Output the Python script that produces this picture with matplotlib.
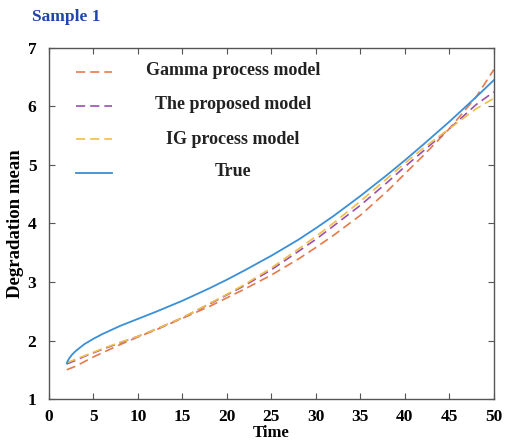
import matplotlib
matplotlib.use("Agg")
import matplotlib.pyplot as plt

# ---- data ----
t_true = [2, 2.1, 2.3, 2.6, 3, 3.5, 4, 5, 6, 8, 10, 12, 15, 18, 20, 22, 25, 28, 30, 32, 35, 38, 40, 42, 45, 48, 50]
true_vals = [1.61, 1.65, 1.70, 1.76, 1.82, 1.88, 1.94, 2.03, 2.11, 2.25, 2.37, 2.49, 2.68, 2.89, 3.04, 3.20,
             3.45, 3.72, 3.92, 4.13, 4.47, 4.83, 5.08, 5.34, 5.74, 6.16, 6.45]

t_model = [2, 3, 4, 5, 6, 8, 10, 12, 15, 18, 20, 22, 25, 28, 30, 32, 35, 38, 40, 42, 45, 48, 50]
gamma_vals = [1.50, 1.56, 1.64, 1.72, 1.79, 1.93, 2.06, 2.18, 2.38, 2.58, 2.73, 2.88, 3.12, 3.39, 3.59,
              3.80, 4.14, 4.55, 4.85, 5.15, 5.62, 6.16, 6.63]
proposed_vals = [1.60, 1.66, 1.73, 1.79, 1.85, 1.96, 2.07, 2.19, 2.39, 2.62, 2.78, 2.94, 3.21, 3.52, 3.73,
                 3.96, 4.31, 4.70, 4.97, 5.23, 5.62, 6.03, 6.25]
ig_vals = [1.62, 1.68, 1.74, 1.80, 1.86, 1.97, 2.07, 2.19, 2.39, 2.63, 2.79, 2.96, 3.24, 3.56, 3.78,
           4.01, 4.38, 4.77, 5.03, 5.28, 5.62, 5.96, 6.14]

labels = ["Gamma process model", "The proposed model", "IG process model", "True"]
colors = ["#E57A4A", "#9A50AE", "#F2BE45", "#3A8FD6"]
x_ticks = list(range(0, 51, 5))
y_ticks = list(range(1, 8))

plt.rcParams['font.family'] = ['Liberation Serif', 'DejaVu Serif']

fig = plt.figure(figsize=(5.07, 4.41), dpi=100)
ax = fig.add_axes([0.0966, 0.0952, 0.8774, 0.7960])

dash = (0, (5.5, 3))
handles = []
for vals, c in zip([gamma_vals, proposed_vals, ig_vals], colors[:3]):
    ln, = ax.plot(t_model, vals, color=c, lw=1.2, ls=dash)
    handles.append(ln)
ln, = ax.plot(t_true, true_vals, color=colors[3], lw=1.3)
handles.append(ln)

ax.set_xlim(0, 50)
ax.set_ylim(1, 7)
ax.set_xticks(x_ticks)
ax.set_yticks(y_ticks)
ax.tick_params(direction='in', length=4, width=0.8, color='#555555',
               top=True, right=True, labelsize=12.5)
ax.tick_params(axis='x', pad=7)
ax.tick_params(axis='y', pad=9)
for lab in ax.get_xticklabels() + ax.get_yticklabels():
    lab.set_fontweight('bold')
for s in ax.spines.values():
    s.set_color('#555555')
    s.set_linewidth(1.0)

ax.set_xlabel("Time", fontsize=12, fontweight='bold', labelpad=0.5)
ax.set_ylabel("Degradation mean", fontsize=13.5, fontweight='bold', labelpad=3)

# legend handles (labels drawn centred as text, as in the original)
leg = ax.legend(handles=handles, labels=["", "", "", ""], loc='upper left',
                bbox_to_anchor=(0.03, 0.985), frameon=False, handlelength=2.38,
                labelspacing=1.30, fontsize=11, handletextpad=0)
label_y = [0.937, 0.838, 0.738, 0.647]
for lab, yy in zip(labels, label_y):
    ax.text(0.413, yy, lab, transform=ax.transAxes, ha='center', va='center',
            fontsize=13, fontweight='bold', color='#222222')

fig.text(0.063, 0.962, "Sample 1", color='#1F45A8', fontsize=12.5, fontweight='bold',
         ha='left', va='center')

fig.savefig("out.png", dpi=100)
